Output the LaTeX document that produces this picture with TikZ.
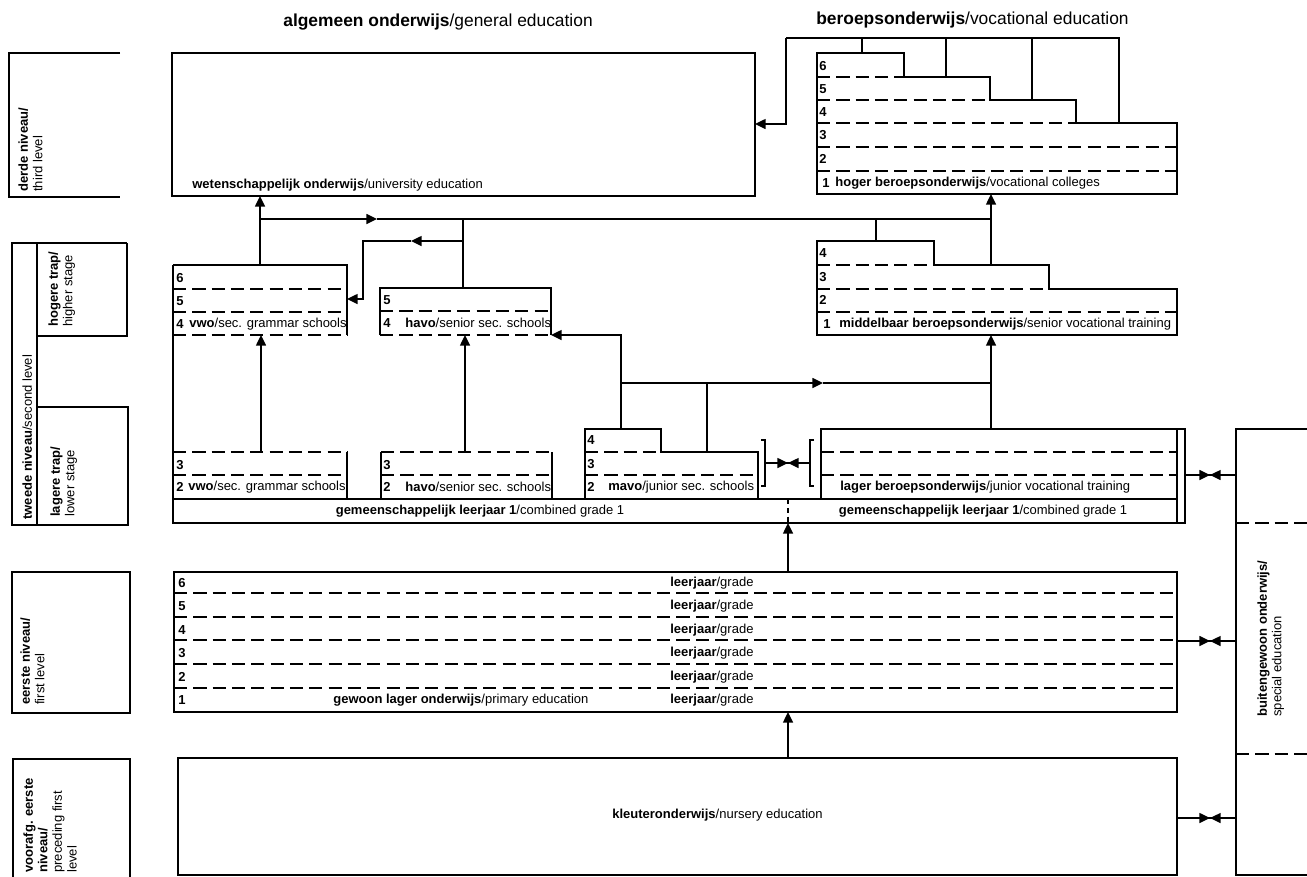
\documentclass[tikz,border=0pt]{standalone}
\usepackage{fontspec}
\setmainfont{Liberation Sans}
\usetikzlibrary{arrows.meta}

\newcommand{\lbfont}{\fontsize{7.4}{8.3}\selectfont}
\newcommand{\ttlfont}{\fontsize{9.9}{11}\selectfont}

\tikzset{
    box/.style={line width=1pt},
    row/.style={line width=0.9pt, dash pattern=on 7.5pt off 3.5pt},
    flow/.style={line width=0.9pt},
    lbl/.style={font=\lbfont, inner sep=0pt, anchor=west},
    side/.style={font=\lbfont, inner sep=0pt, rotate=90, anchor=north west, align=left},
    ttl/.style={font=\ttlfont, inner sep=0pt, anchor=west}
}

% two heads meeting between #1 and #2, at #3
\newcommand{\pairarrow}[3]{%
    \draw[flow] (#1) -- (#2);
    \draw[flow,->] (#1) -- (#3);
    \draw[flow,->] (#2) -- (#3);
}

\begin{document}
\begin{tikzpicture}[
    x=0.02cm, y=-0.02cm,
    >={Triangle[length=6pt,width=5.6pt]}
]
\useasboundingbox (0,0) rectangle (1307,876);

% ---------------- TITELS ----------------

\node[ttl] (tAlg) at (283,22) {\textbf{algemeen onderwijs}/general education};
\node[ttl] (tBer) at (816,20) {\textbf{beroepsonderwijs}/vocational education};


% ---------------- NIVEAUS (links) ----------------

% derde niveau
\draw[box] (120,53) -- (9,53) -- (9,197) -- (120,197);
\node[side] (sDerde) at (18,192) {\textbf{derde niveau/}\\third level};

% tweede niveau
\draw[box] (127,243) -- (12,243) -- (12,525) -- (128,525) -- (128,407) -- (37,407);
\draw[box] (37,243) -- (37,525);
\draw[box] (127,243) -- (127,336) -- (37,336);
\node[side] (sTweede) at (22,520) {\textbf{tweede niveau}/second level};
\node[side] (sHoger) at (48,327) {\textbf{hogere trap/}\\higher stage};
\node[side] (sLager) at (50,517) {\textbf{lagere trap/}\\lower stage};

% eerste niveau
\draw[box] (12,572) rectangle (130,713);
\node[side] (sEerste) at (20,705) {\textbf{eerste niveau/}\\first level};

% voorafgaand
\draw[box] (13,880) -- (13,759) -- (130,759) -- (130,880);
\node[side] (sVoor) at (23,873) {\textbf{voorafg. eerste}\\\textbf{niveau/}\\preceding first\\level};


% ---------------- DERDE NIVEAU ----------------

% wo
\draw[box] (172,53) rectangle (755,196);
\node[lbl] (lWo) at (192,185) {\textbf{wetenschappelijk onderwijs}/university education};

% hbo
\draw[box] (817,194) -- (817,53) -- (904,53) -- (904,77) -- (990,77) -- (990,100)
    -- (1076,100) -- (1076,123) -- (1177,123) -- (1177,194) -- cycle;
\draw[row] (817,77) -- (904,77);
\draw[row] (817,100) -- (990,100);
\draw[row] (817,123) -- (1076,123);
\draw[row] (817,147) -- (1177,147);
\draw[row] (817,171) -- (1177,171);
\foreach \g/\y in {6/66, 5/89, 4/112, 3/135, 2/159}
    \node[lbl] (hb\g) at (819,\y) {\textbf{\g}};
\node[lbl] (hb1) at (822,183) {\textbf{1}};
\node[lbl] (lHbo) at (835,183) {\textbf{hoger beroepsonderwijs}/vocational colleges};


% ---------------- TWEEDE NIVEAU, HOGERE TRAP ----------------

% vwo 4-6
\draw[box] (173,265) -- (347,265) -- (347,335);
\draw[row] (173,289) -- (347,289);
\draw[row] (173,312) -- (347,312);
\draw[row] (173,335) -- (347,335);
\node[lbl] (vw6) at (176,278) {\textbf{6}};
\node[lbl] (vw5) at (176,301) {\textbf{5}};
\node[lbl] (vw4) at (176,324) {\textbf{4}};
\node[lbl] (lVwoH) at (189,324) {\textbf{vwo}/sec. grammar schools};

% havo 4-5
\draw[box] (380,335) -- (380,288) -- (551,288) -- (551,335);
\draw[row] (380,311) -- (551,311);
\draw[row] (380,335) -- (551,335);
\node[lbl] (hv5) at (383,300) {\textbf{5}};
\node[lbl] (hv4) at (383,323) {\textbf{4}};
\node[lbl] (lHavoH) at (405,323) {\textbf{havo}/senior sec. schools};

% mbo
\draw[box] (817,335) -- (817,241) -- (934,241) -- (934,265) -- (1049,265) -- (1049,289)
    -- (1177,289) -- (1177,335) -- cycle;
\draw[row] (817,265) -- (934,265);
\draw[row] (817,289) -- (1049,289);
\draw[row] (817,312) -- (1177,312);
\foreach \g/\y in {4/253, 3/277, 2/300}
    \node[lbl] (mb\g) at (819,\y) {\textbf{\g}};
\node[lbl] (mb1) at (823,324) {\textbf{1}};
\node[lbl] (lMbo) at (839,324) {\textbf{middelbaar beroepsonderwijs}/senior vocational training};


% ---------------- TWEEDE NIVEAU, LAGERE TRAP ----------------

% vwo 2-3
\draw[box] (173,265) -- (173,523);
\draw[row] (173,452) -- (347,452);
\draw[box] (347,452) -- (347,499);
\draw[row] (173,475) -- (347,475);
\node[lbl] (vw3) at (176,465) {\textbf{3}};
\node[lbl] (vw2) at (176,487) {\textbf{2}};
\node[lbl] (lVwoL) at (188,487) {\textbf{vwo}/sec. grammar schools};

% havo 2-3
\draw[box] (381,499) -- (381,452);
\draw[box] (552,452) -- (552,499);
\draw[row] (381,452) -- (552,452);
\draw[row] (381,475) -- (552,475);
\node[lbl] (hv3) at (383,465) {\textbf{3}};
\node[lbl] (hv2) at (383,487) {\textbf{2}};
\node[lbl] (lHavoL) at (405,487) {\textbf{havo}/senior sec. schools};

% mavo
\draw[box] (585,499) -- (585,429) -- (661,429) -- (661,452) -- (758,452) -- (758,499);
\draw[row] (585,452) -- (661,452);
\draw[row] (585,475) -- (758,475);
\node[lbl] (mv4) at (587,440) {\textbf{4}};
\node[lbl] (mv3) at (587,464) {\textbf{3}};
\node[lbl] (mv2) at (587,487) {\textbf{2}};
\node[lbl] (lMavo) at (608,487) {\textbf{mavo}/junior sec. schools};

% lbo
\draw[box] (821,499) -- (821,429) -- (1177,429) -- (1177,499);
\draw[row] (821,452) -- (1177,452);
\draw[row] (821,475) -- (1177,475);
\node[lbl] (lLbo) at (840,487) {\textbf{lager beroepsonderwijs}/junior vocational training};

% gemeenschappelijk leerjaar
\draw[box] (173,499) rectangle (1177,523);
\draw[flow, dash pattern=on 3pt off 2pt] (788,499) -- (788,523);
\node[lbl, anchor=center] (gemA) at (480,511) {\textbf{gemeenschappelijk leerjaar 1}/combined grade 1};
\node[lbl, anchor=center] (gemB) at (983,511) {\textbf{gemeenschappelijk leerjaar 1}/combined grade 1};

% haken
\draw[flow] (761,440) -- (765,440) -- (765,486) -- (761,486);
\draw[flow] (814,440) -- (810,440) -- (810,486) -- (814,486);
\draw[flow] (1177,429) -- (1185,429) -- (1185,523) -- (1177,523);


% ---------------- EERSTE NIVEAU ----------------

\draw[box] (174,572) rectangle (1177,712);
\foreach \y in {593,617,640,664,688}
    \draw[row] (174,\y) -- (1177,\y);
\foreach \g/\y in {6/583, 5/606, 4/630, 3/653, 2/677, 1/700} {
    \node[lbl] (pg\g) at (178,\y) {\textbf{\g}};
    \node[lbl] (pl\g) at (670,\y) {\textbf{leerjaar}/grade};
}
\node[lbl] (lGlo) at (333,700) {\textbf{gewoon lager onderwijs}/primary education};


% ---------------- KLEUTER / BUITENGEWOON ----------------

\draw[box] (178,758) rectangle (1177,875);
\node[lbl] (lKlo) at (612,815) {\textbf{kleuteronderwijs}/nursery education};

\draw[box] (1312,429) -- (1236,429) -- (1236,875) -- (1312,875);
\draw[row] (1236,523) -- (1312,523);
\draw[row] (1236,754) -- (1312,754);
\node[side] (sBuo) at (1257,717) {\textbf{buitengewoon onderwijs/}\\special education};


% ---------------- VERBINDINGEN ----------------

% hbo -> wo
\coordinate (hboBus) at (786,38);
\coordinate (woEast) at (755,124);
\coordinate (hbo6) at (862,53);
\coordinate (hbo5) at (946,77);
\coordinate (hbo4) at (1032,100);
\coordinate (hbo3) at (1119,123);
\draw[flow] (hbo3) |- (hboBus);
\foreach \r in {hbo6,hbo5,hbo4}
    \draw[flow] (\r) -- (\r |- hboBus);
\draw[flow,->] (hboBus) |- (woEast);

% vwo -> wo, bus naar hbo
\coordinate (vwoTop) at (260,265);
\coordinate (woSouth) at (260,196);
\coordinate (busW) at (260,219);
\coordinate (busMid) at (377,219);
\coordinate (busE) at (991,219);
\coordinate (hboSouth) at (991,194);
\coordinate (mbo3) at (991,265);
\coordinate (mbo4) at (876,241);
\coordinate (havoTop) at (463,288);
\draw[flow,->] (vwoTop) -- (woSouth);
\draw[flow,->] (busW) -- (busMid);
\draw[flow] (busMid) -- (busE);
\draw[flow,->] (mbo3) -- (hboSouth);
\draw[flow] (mbo4) -- (mbo4 |- busW);
\draw[flow] (havoTop) -- (havoTop |- busW);

% havo -> vwo
\coordinate (havoBus) at (463,241);
\coordinate (havoMid) at (411,241);
\coordinate (vwoEast) at (347,299);
\draw[flow,->] (havoBus) -- (havoMid);
\draw[flow,->] (havoMid) -- (363,241) -- (363,299) -- (vwoEast);

% lagere -> hogere trap
\draw[flow,->] (261,452) -- (261,335);
\draw[flow,->] (465,452) -- (465,335);

% mavo -> havo, mbo
\coordinate (mavo4) at (621,429);
\coordinate (havoEast) at (551,335);
\coordinate (mavoBus) at (621,383);
\coordinate (mavoMid) at (823,383);
\coordinate (mavo3) at (707,452);
\coordinate (lboTop) at (991,429);
\coordinate (mboSouth) at (991,335);
\draw[flow,->] (mavo4) |- (havoEast);
\draw[flow,->] (mavoBus) -- (mavoMid);
\draw[flow] (mavoMid) -- (mavoMid -| lboTop);
\draw[flow] (mavo3) -- (mavo3 |- mavoBus);
\draw[flow,->] (lboTop) -- (mboSouth);

% glo -> gemeenschappelijk, klo -> glo
\draw[flow,->] (788,572) -- (788,523);
\draw[flow,->] (788,758) -- (788,712);

% uitwisseling
\pairarrow{765,463}{810,463}{788,463}
\pairarrow{1185,475}{1236,475}{1210,475}
\pairarrow{1177,641}{1236,641}{1210,641}
\pairarrow{1177,818}{1236,818}{1210,818}

\end{tikzpicture}
\end{document}
